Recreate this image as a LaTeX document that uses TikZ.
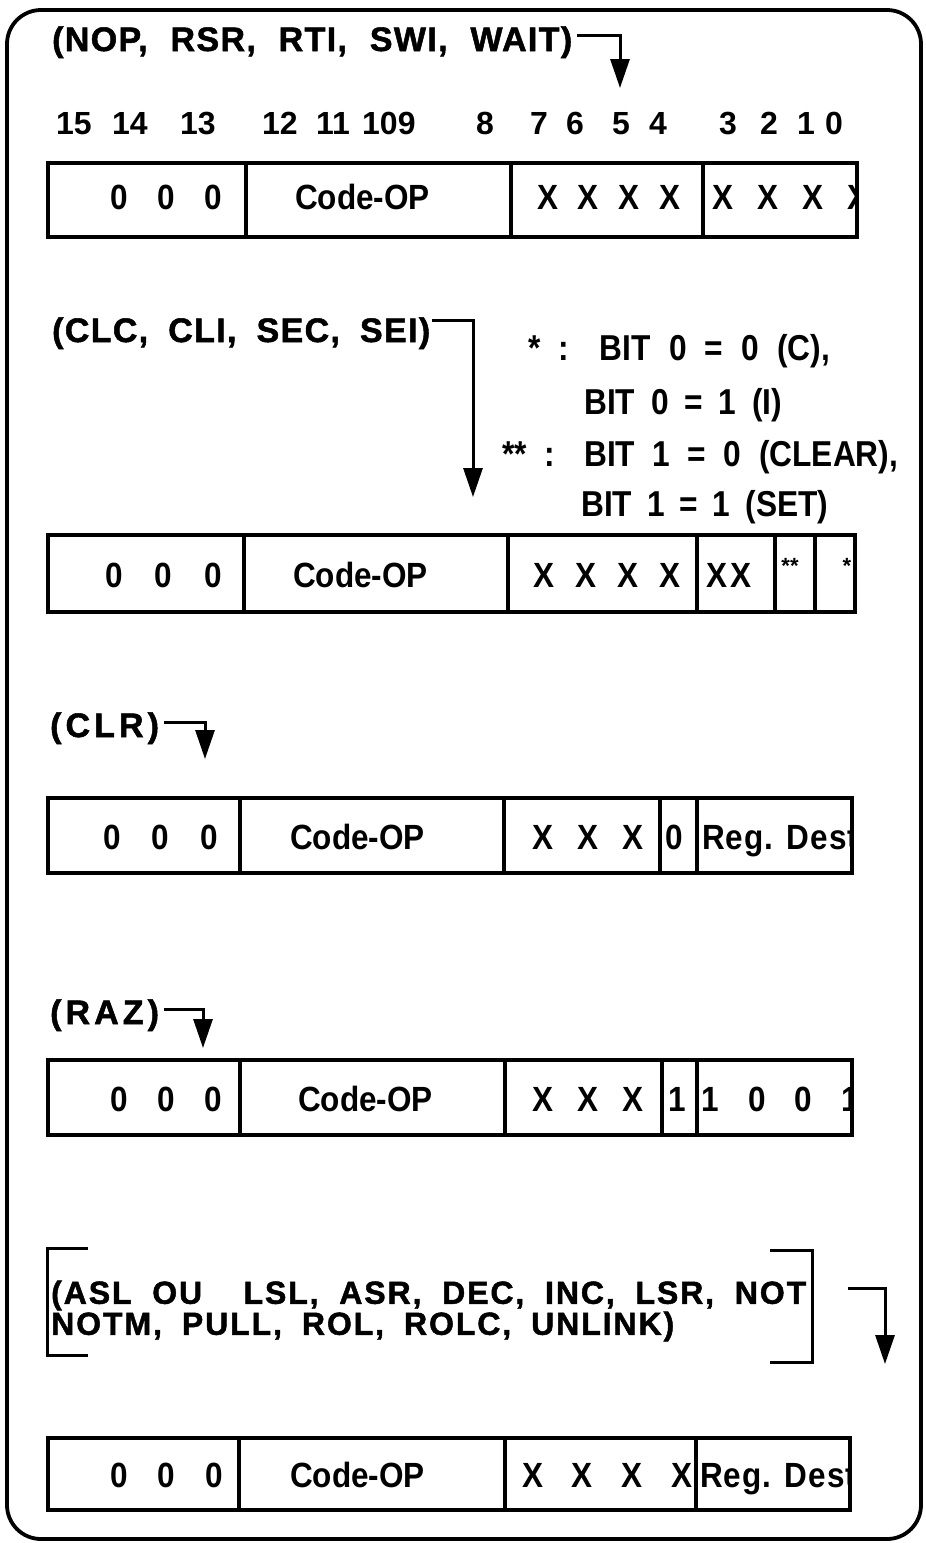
\documentclass[tikz,border=0pt]{standalone}
\usepackage{fontspec}
\setmainfont{Liberation Sans}
\newfontfamily\ttlfont{Liberation Sans Bold}[LetterSpace=4,FakeBold=1.5]
\newfontfamily\widettl{Liberation Sans Bold}[LetterSpace=12,FakeBold=1.5]
\newfontfamily\longttl{Liberation Sans Bold}[LetterSpace=6,FakeBold=1.5]
\newfontfamily\medfont{Liberation Sans Bold}[FakeStretch=0.9]
\newfontfamily\regfont{Liberation Sans Bold}[FakeStretch=0.9,LetterSpace=3]
\newfontfamily\notefont{Liberation Sans Bold}[FakeStretch=0.88]
\newfontfamily\bitfont{Liberation Sans Bold}
\usetikzlibrary{arrows.meta}
\newcommand\wbox[2]{\makebox[#1pt][s]{#2}}
\begin{document}
\begin{tikzpicture}[x=1pt,y=-1pt,
  ttl/.style={anchor=base west, inner sep=0pt, font=\ttlfont\fontsize{34}{36}\selectfont},
  shortttl/.style={anchor=base west, inner sep=0pt, font=\widettl\fontsize{34}{36}\selectfont},
  bits/.style={anchor=base west, inner sep=0pt, font=\bitfont\fontsize{32}{38}\selectfont},
  bx/.style={anchor=base west, inner sep=0pt, font=\medfont\fontsize{35}{38}\selectfont},
  reg/.style={anchor=base west, inner sep=0pt, font=\regfont\fontsize{35}{38}\selectfont},
  note/.style={anchor=base west, inner sep=0pt, font=\notefont\fontsize{36}{38}\selectfont},
  star/.style={anchor=center, inner sep=0pt, font=\bitfont\fontsize{22}{22}\selectfont},
  frame/.style={line width=3.8pt, rounded corners=34pt},
  cell/.style={line width=3.2pt},
  lead/.style={line width=3pt},
  arr/.style={lead, -{Triangle[length=29pt,width=19pt]}}]
\useasboundingbox (0,0) rectangle (926,1543);
\draw[frame] (7,10) rectangle (921,1539);

% ---------- block 1 ----------
\node[ttl] (t1) at (52,51) {\wbox{520}{(NOP, RSR, RTI, SWI, WAIT)}};
\coordinate (c1) at (620,35);
\coordinate (e1) at (620,88);
\draw[arr] ([xshift=5pt]t1.east |- c1) -- (c1) -- (e1);
\node[bits] (b15) at (56,134) {15};
\node[bits] (b14) at (112,134) {14};
\node[bits] (b13) at (180,134) {13};
\node[bits] (b12) at (262,134) {12};
\node[bits] (b11) at (316,134) {11};
\node[bits] (b109) at (362,134) {109};
\node[bits] (b8) at (476,134) {8};
\node[bits] (b7) at (530,134) {7};
\node[bits] (b6) at (566,134) {6};
\node[bits] (b5) at (612,134) {5};
\node[bits] (b4) at (649,134) {4};
\node[bits] (b3) at (719,134) {3};
\node[bits] (b2) at (760,134) {2};
\node[bits] (b1) at (797,134) {1};
\node[bits] (b0) at (825,134) {0};
\draw[cell] (48,163) rectangle (857,237);
\draw[cell] (246,163) -- (246,237) (511,163) -- (511,237) (703,163) -- (703,237);
\begin{scope}
\clip (48,163) rectangle (857,237);
\node[bx] (r1a) at (110,209) {\wbox{112}{0 0 0}};
\node[bx] (r1b) at (295,209) {Code-OP};
\node[bx] (r1c) at (537,209) {\wbox{143}{X X X X}};
\node[bx] (r1d) at (712,209) {\wbox{156}{X X X X}};
\end{scope}

% ---------- block 2 ----------
\node[ttl] (t2) at (52,342) {\wbox{378}{(CLC, CLI, SEC, SEI)}};
\coordinate (c2) at (473,320);
\coordinate (e2) at (473,497);
\draw[arr] ([xshift=2pt]t2.east |- c2) -- (c2) -- (e2);
\node[note] (n1) at (528,360) {\wbox{302}{* : BIT 0 = 0 (C),}};
\node[note] (n2) at (584,414) {\wbox{198}{BIT 0 = 1 (I)}};
\node[note] (n3) at (502,466) {\wbox{396}{** : BIT 1 = 0 (CLEAR),}};
\node[note] (n4) at (581,516) {\wbox{247}{BIT 1 = 1 (SET)}};
\draw[cell] (48,535) rectangle (855,612);
\draw[cell] (244,535) -- (244,612) (508,535) -- (508,612) (697,535) -- (697,612)
            (775,535) -- (775,612) (815,535) -- (815,612);
\node[bx] (r2a) at (105,587) {\wbox{117}{0 0 0}};
\node[bx] (r2b) at (293,587) {Code-OP};
\node[bx] (r2c) at (533,587) {\wbox{147}{X X X X}};
\node[bx] (r2d) at (706,587) {X\hspace{3pt}X};
\node[star] (r2e) at (790,566) {**};
\node[star] (r2f) at (847,566) {*};

% ---------- block 3 ----------
\node[shortttl] (t3) at (50,737) {(CLR)};
\coordinate (c3) at (205,722);
\coordinate (e3) at (205,759);
\draw[arr] ([xshift=5pt]t3.east |- c3) -- (c3) -- (e3);
\draw[cell] (48,798) rectangle (852,873);
\draw[cell] (240,798) -- (240,873) (504,798) -- (504,873) (660,798) -- (660,873) (697,798) -- (697,873);
\begin{scope}
\clip (48,798) rectangle (852,873);
\node[bx] (r3a) at (103,849) {\wbox{115}{0 0 0}};
\node[bx] (r3b) at (290,849) {Code-OP};
\node[bx] (r3c) at (532,849) {\wbox{111}{X X X}};
\node[bx] (r3d) at (665,849) {0};
\node[reg] (r3e) at (702,849) {Reg. Dest};
\end{scope}

% ---------- block 4 ----------
\node[shortttl] (t4) at (50,1024) {(RAZ)};
\coordinate (c4) at (203,1009);
\coordinate (e4) at (203,1048);
\draw[arr] ([xshift=5pt]t4.east |- c4) -- (c4) -- (e4);
\draw[cell] (48,1060) rectangle (852,1135);
\draw[cell] (240,1060) -- (240,1135) (505,1060) -- (505,1135) (662,1060) -- (662,1135) (697,1060) -- (697,1135);
\begin{scope}
\clip (48,1060) rectangle (852,1135);
\node[bx] (r4a) at (110,1111) {\wbox{112}{0 0 0}};
\node[bx] (r4b) at (298,1111) {Code-OP};
\node[bx] (r4c) at (532,1111) {\wbox{111}{X X X}};
\node[bx] (r4d) at (668,1111) {1};
\node[bx] (r4e) at (701,1111) {\wbox{158}{1 0 0 1}};
\end{scope}

% ---------- block 5 ----------
\node[anchor=west, inner sep=0pt, align=left, font=\longttl\fontsize{32}{31}\selectfont] (t5)
  at (51,1311) {\wbox{755}{(ASL OU\ \ LSL, ASR, DEC, INC, LSR, NOT}\\\wbox{623}{NOTM, PULL, ROL, ROLC, UNLINK)}};
\draw[lead] (88,1248) -- (47,1248) -- (47,1355) -- (88,1355);
\draw[lead] (770,1250) -- (812,1250) -- (812,1362) -- (770,1362);
\coordinate (s5) at (848,1288);
\coordinate (c5) at (885,1288);
\coordinate (e5) at (885,1364);
\draw[arr] (s5) -- (c5) -- (e5);
\draw[cell] (48,1438) rectangle (850,1510);
\draw[cell] (239,1438) -- (239,1510) (505,1438) -- (505,1510) (696,1438) -- (696,1510);
\begin{scope}
\clip (48,1438) rectangle (850,1510);
\node[bx] (r5a) at (110,1487) {\wbox{113}{0 0 0}};
\node[bx] (r5b) at (290,1487) {Code-OP};
\node[bx] (r5c) at (522,1487) {\wbox{170}{X X X X}};
\node[reg] (r5d) at (700,1487) {Reg. Dest};
\end{scope}
\end{tikzpicture}
\end{document}
